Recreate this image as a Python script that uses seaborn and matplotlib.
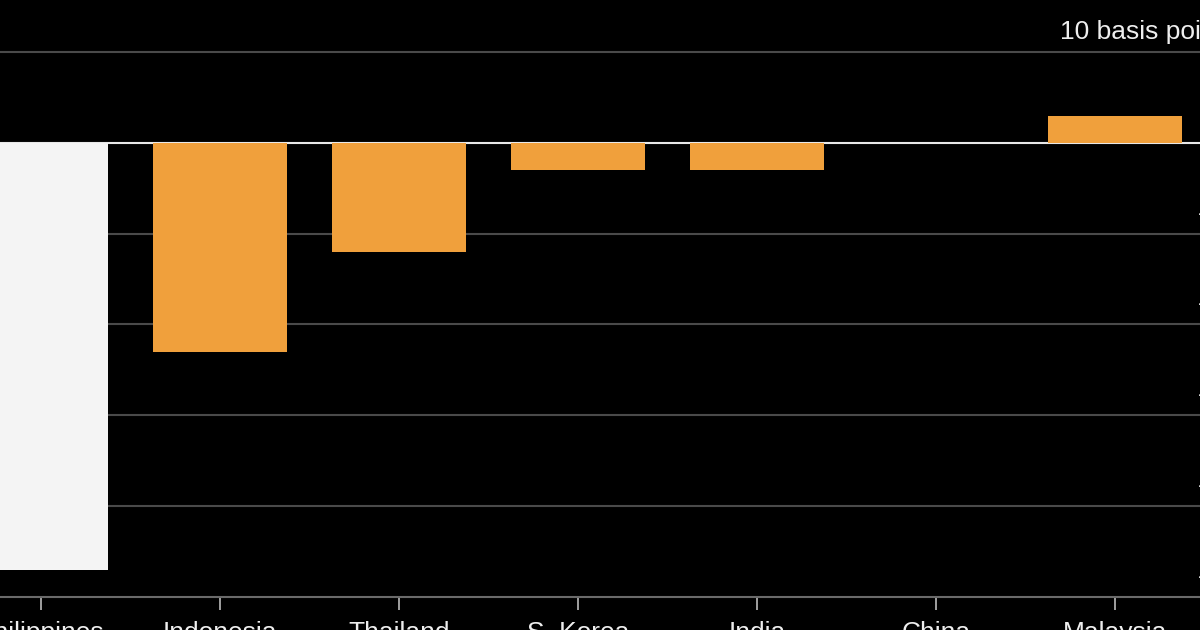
import matplotlib
matplotlib.use('Agg')
import numpy as np
import pandas as pd
import matplotlib.pyplot as plt
import seaborn as sns

# --- data (basis points) ---
countries = ['Philippines', 'Indonesia', 'Thailand', 'S. Korea', 'India', 'China', 'Malaysia']
changes_bp = [-47, -23, -12, -3, -3, 0, 3]
grid_values = [10, -10, -20, -30, -40, -50]
grid_labels = ['10 basis points', '-10', '-20', '-30', '-40', '-50']
highlight = 'Philippines'

ORANGE = '#f0a03c'
WHITE_BAR = '#f4f4f4'

df = pd.DataFrame({'country': countries, 'change': changes_bp})
palette = {c: (WHITE_BAR if c == highlight else ORANGE) for c in countries}

sns.set_theme(style='dark', rc={'axes.facecolor': 'black', 'figure.facecolor': 'black'})
plt.rcParams['font.family'] = ['Liberation Sans', 'DejaVu Sans']

fig = plt.figure(figsize=(12, 6.3), dpi=100)
# axes deliberately runs past the figure edges (cropped chart)
ax = fig.add_axes([-40 / 1200, 33 / 630, 1280 / 1200, 597 / 630])

sns.barplot(data=df, x='country', y='change', hue='country', palette=palette,
            width=0.75, saturation=1, legend=False, linewidth=0, ax=ax, zorder=3)

ax.set_xlim(-0.4525, 6.698)
ax.set_ylim(-50, 15.72)

# gridlines + zero line
for v in grid_values[:-1]:
    ax.axhline(v, color='#4a4a4a', lw=1.5, zorder=1)
ax.axhline(0, color='#e8e8e8', lw=1.5, zorder=2)

for side in ['top', 'left', 'right']:
    ax.spines[side].set_visible(False)
ax.spines['bottom'].set_color('#6a6a6a')
ax.spines['bottom'].set_linewidth(1.5)

ax.set_yticks([])
ax.set_xlabel('')
ax.set_ylabel('')
ax.tick_params(axis='x', bottom=True, length=9.4, width=1.2, color='#bbbbbb',
               labelcolor='#eeeeee', labelsize=19, pad=8)

# right-hand value labels sitting on the gridlines
for v, lab in zip(grid_values, grid_labels):
    ax.text(0.997, v + 1.43, lab, transform=ax.get_yaxis_transform(),
            ha='right', va='baseline', fontsize=19, color='#eeeeee')

fig.savefig('out.png', dpi=100, facecolor='black')
